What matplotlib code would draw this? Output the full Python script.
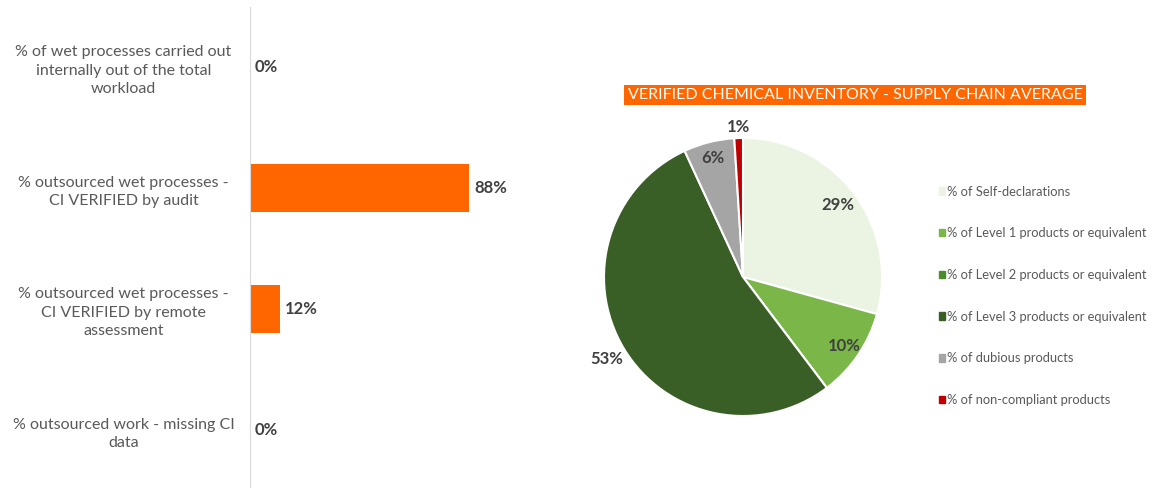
import matplotlib.pyplot as plt
import matplotlib.patches as mpatches
import numpy as np

# left bar chart data
bar_labels = [
    "% of wet processes carried out\ninternally out of the total\nworkload",
    "% outsourced wet processes -\nCI VERIFIED by audit",
    "% outsourced wet processes -\nCI VERIFIED by remote\nassessment",
    "% outsourced work - missing CI\ndata",
]
bar_values = [0.0, 0.88, 0.12, 0.0]

# pie data
pie_title = "VERIFIED CHEMICAL INVENTORY - SUPPLY CHAIN AVERAGE"
pie_labels = [
    "% of Self-declarations",
    "% of Level 1 products or equivalent",
    "% of Level 2 products or equivalent",
    "% of Level 3 products or equivalent",
    "% of dubious products",
    "% of non-compliant products",
]
pie_values = [29.3, 10.4, 0.0, 53.4, 5.9, 1.0]
pie_colors = ["#EBF3E3", "#7AB648", "#4E8A2E", "#3A5F26", "#A5A5A5", "#C00000"]

plt.rcParams['font.family'] = ['Lato', 'DejaVu Sans']
grey_txt = "#595959"
dark_txt = "#404040"
orange = "#FF6600"

fig = plt.figure(figsize=(11.56, 4.88), dpi=100)

# ---- bar chart
ax = fig.add_axes([250 / 1156, -2.5 / 488, 249 / 1156, 484 / 488])
ypos = list(range(len(bar_values)))
ax.barh(ypos, bar_values, height=0.4, color=orange)
ax.set_xlim(0, 1)
ax.set_ylim(len(bar_values) - 0.5, -0.5)
ax.set_yticks(ypos)
ax.set_yticklabels(bar_labels, fontsize=11.5, color=grey_txt, ha="center",
                   linespacing=1.42)
ax.tick_params(axis="y", length=0, pad=91)
ax.set_xticks([])
for s in ["top", "right", "bottom"]:
    ax.spines[s].set_visible(False)
ax.spines["left"].set_color("#D9D9D9")
for y, v in zip(ypos, bar_values):
    ax.text(v + 0.02, y, f"{v:.0%}", va="center", ha="left", fontsize=12,
            fontweight="bold", color=dark_txt)

# ---- pie chart
cx, cy, r = 743, 277, 139
pax = fig.add_axes([(cx - r) / 1156, (488 - cy - r) / 488, 2 * r / 1156, 2 * r / 488])
wedges, _ = pax.pie(pie_values, colors=pie_colors, startangle=90, counterclock=False,
                    wedgeprops=dict(edgecolor="white", linewidth=1.5))
pax.set_xlim(-1, 1)
pax.set_ylim(-1, 1)
pax.set_aspect("equal")

total = sum(pie_values)
label_r = [0.86, 0.88, 0.0, 1.14, 0.88, 1.08]
start = 90.0
for v, lr in zip(pie_values, label_r):
    sweep = v / total * 360
    mid = np.deg2rad(start - sweep / 2)
    start -= sweep
    if v <= 0:
        continue
    pax.text(lr * np.cos(mid), lr * np.sin(mid), f"{v:.0f}%", ha="center", va="center",
             fontsize=12, fontweight="bold", color=dark_txt, clip_on=False)

fig.text(855 / 1156, 1 - 95 / 488, pie_title, ha="center", va="center", fontsize=11.5,
         color="white",
         bbox=dict(boxstyle="square,pad=0.2", facecolor=orange, edgecolor="none"))

handles = [mpatches.Patch(color=c) for c in pie_colors]
fig.legend(handles, pie_labels, loc="upper left", bbox_to_anchor=(927 / 1156, 1 - 174 / 488),
           frameon=False, fontsize=9.3, labelcolor=grey_txt, handlelength=0.5,
           handleheight=0.5, handletextpad=0.15, labelspacing=2.3)

fig.savefig("out.png", dpi=100)
